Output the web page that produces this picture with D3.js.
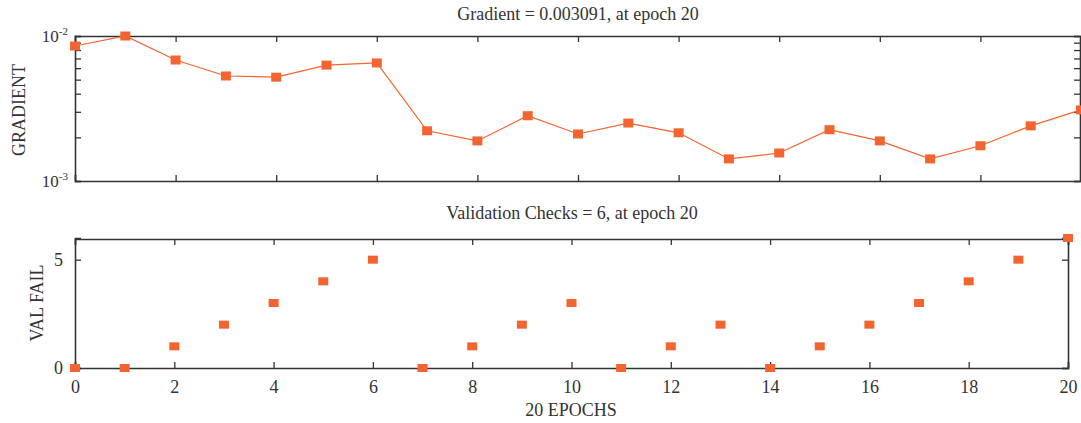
<!DOCTYPE html>
<html>
<head>
<meta charset="utf-8">
<script src="https://cdn.jsdelivr.net/npm/d3@7"></script>
<style>
  body { margin: 0; background: #fff; }
  svg { display: block; font-family: "Liberation Serif", "DejaVu Serif", serif; }
  text { fill: #333; }
</style>
</head>
<body>
<div id="chart"></div>
<script>
// data
var epochs = d3.range(0, 21);
var gradient = [0.00853, 0.0100, 0.00683, 0.00530, 0.00520, 0.00630, 0.00652,
  0.00222, 0.00189, 0.00282, 0.00211, 0.00251, 0.00215, 0.00142, 0.00156,
  0.00226, 0.00189, 0.00142, 0.00175, 0.00240, 0.003091];
var valFail = [0, 0, 1, 2, 3, 4, 5, 0, 1, 2, 3, 0, 1, 2, 0, 1, 2, 3, 4, 5, 6];
var xTicks = [0, 2, 4, 6, 8, 10, 12, 14, 16, 18, 20];
var gradTicks = [0.001, 0.002, 0.003, 0.004, 0.005, 0.006, 0.007, 0.008, 0.009, 0.01];
var valTicks = [0, 5];

var W = 1081, H = 423;
var orange = "#f26430", axisCol = "#333";

var svg = d3.select("#chart").append("svg")
  .attr("width", W).attr("height", H);

// ---- top panel: gradient (log scale)
var x1 = d3.scaleLinear().domain([0, 20]).range([75, 1081]);
var y1 = d3.scaleLog().domain([0.001, 0.01]).range([181, 36]);

var gTop = svg.append("g");

gTop.append("g").attr("transform", "translate(0,181)")
  .call(d3.axisBottom(x1).tickValues(xTicks).tickSize(-6).tickFormat(""));
gTop.append("g").attr("transform", "translate(0,36)")
  .call(d3.axisTop(x1).tickValues(xTicks).tickSize(-6).tickFormat(""));
gTop.append("g").attr("transform", "translate(75,0)")
  .call(d3.axisLeft(y1).tickValues(gradTicks).tickSize(-6).tickFormat(""));
gTop.append("g").attr("transform", "translate(1080,0)")
  .call(d3.axisRight(y1).tickValues(gradTicks).tickSize(-6).tickFormat(""));

// log decade labels
[0.01, 0.001].forEach(function(v) {
  var t = gTop.append("text")
    .attr("x", 68).attr("y", y1(v) + 6)
    .attr("text-anchor", "end")
    .style("font-size", "17px")
    .text("10");
  t.append("tspan").attr("dy", -7).style("font-size", "11px")
    .text(v === 0.01 ? "-2" : "-3");
});

gTop.append("path")
  .datum(epochs)
  .attr("fill", "none")
  .attr("stroke", orange)
  .attr("stroke-width", 1.2)
  .attr("d", d3.line().x(function(d) { return x1(d); })
    .y(function(d) { return y1(gradient[d]); }));

gTop.selectAll("rect.pt").data(epochs).enter().append("rect")
  .attr("class", "pt")
  .attr("x", function(d) { return x1(d) - 5; })
  .attr("y", function(d) { return y1(gradient[d]) - 4.5; })
  .attr("width", 10).attr("height", 9)
  .attr("fill", orange);

gTop.append("text")
  .attr("x", 578).attr("y", 20)
  .attr("text-anchor", "middle")
  .style("font-size", "18px")
  .text("Gradient = 0.003091, at epoch 20");

gTop.append("text")
  .attr("transform", "translate(25,110) rotate(-90)")
  .attr("text-anchor", "middle")
  .style("font-size", "18px")
  .text("GRADIENT");

// ---- bottom panel: validation checks
var x2 = d3.scaleLinear().domain([0, 20]).range([75, 1068]);
var y2 = d3.scaleLinear().domain([0, 6]).range([368, 238]);

var gBot = svg.append("g");

gBot.append("g").attr("transform", "translate(0,368)")
  .call(d3.axisBottom(x2).tickValues(xTicks).tickSize(-6).tickPadding(12)
    .tickFormat(d3.format("d")));
gBot.append("g").attr("transform", "translate(0,239)")
  .call(d3.axisTop(x2).tickValues(xTicks).tickSize(-6).tickFormat(""));
gBot.append("g").attr("transform", "translate(75,0)")
  .call(d3.axisLeft(y2).tickValues(valTicks).tickSize(-6).tickPadding(12)
    .tickFormat(d3.format("d")));
gBot.append("g").attr("transform", "translate(1068,0)")
  .call(d3.axisRight(y2).tickValues(valTicks).tickSize(-6).tickFormat(""));

gBot.selectAll("rect.pt").data(epochs).enter().append("rect")
  .attr("class", "pt")
  .attr("x", function(d) { return x2(d) - 5; })
  .attr("y", function(d) { return y2(valFail[d]) - 4; })
  .attr("width", 10).attr("height", 8)
  .attr("fill", orange);

gBot.append("text")
  .attr("x", 572).attr("y", 219)
  .attr("text-anchor", "middle")
  .style("font-size", "18px")
  .text("Validation Checks = 6, at epoch 20");

gBot.append("text")
  .attr("transform", "translate(43,303) rotate(-90)")
  .attr("text-anchor", "middle")
  .style("font-size", "18px")
  .text("VAL FAIL");

gBot.append("text")
  .attr("x", 571).attr("y", 416)
  .attr("text-anchor", "middle")
  .style("font-size", "18px")
  .text("20 EPOCHS");

// axis styling
svg.selectAll(".domain").attr("stroke", axisCol).attr("stroke-width", 1.6);
svg.selectAll(".tick line").attr("stroke", axisCol).attr("stroke-width", 1.3);
svg.selectAll(".tick text")
  .style("font-family", "Liberation Serif, DejaVu Serif, serif")
  .style("font-size", "18px")
  .attr("fill", axisCol);
</script>
</body>
</html>
